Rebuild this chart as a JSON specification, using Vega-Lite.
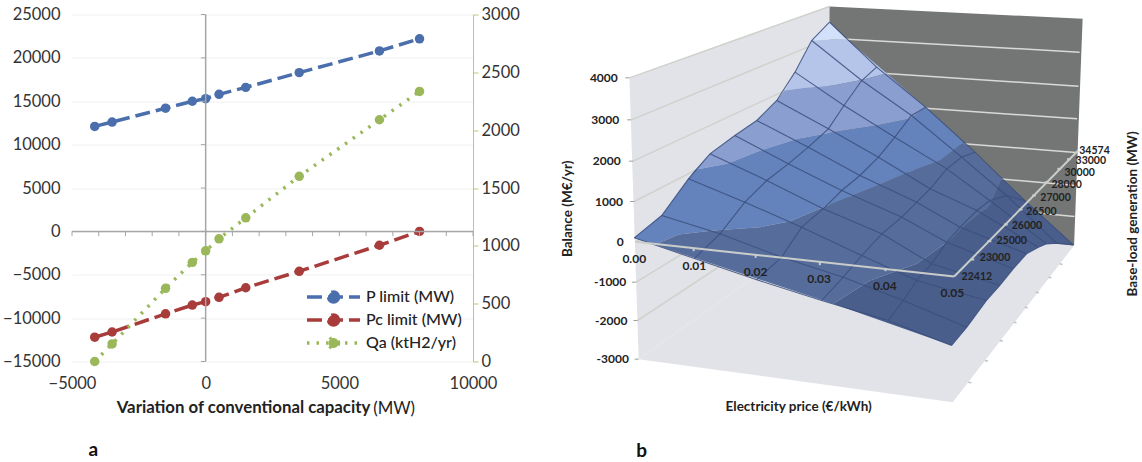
{"$schema":"https://vega.github.io/schema/vega-lite/v6.json","padding":{"left":2,"top":3.5,"right":0,"bottom":0},"background":"white","spacing":40,"config":{"font":"Lato","view":{"stroke":null},"axis":{"labelFont":"Lato","titleFont":"Lato"},"legend":{"labelFont":"Lato"}},
"datasets":{"lines":[
{"series":"P limit (MW)","cap":-4150,"value":12100},{"series":"P limit (MW)","cap":-3500,"value":12600},{"series":"P limit (MW)","cap":-1500,"value":14200},{"series":"P limit (MW)","cap":-500,"value":15000},{"series":"P limit (MW)","cap":0,"value":15300},{"series":"P limit (MW)","cap":500,"value":15800},{"series":"P limit (MW)","cap":1500,"value":16600},{"series":"P limit (MW)","cap":3500,"value":18300},{"series":"P limit (MW)","cap":6500,"value":20800},{"series":"P limit (MW)","cap":8000,"value":22200},
{"series":"Pc limit (MW)","cap":-4150,"value":-12200},{"series":"Pc limit (MW)","cap":-3500,"value":-11600},{"series":"Pc limit (MW)","cap":-1500,"value":-9500},{"series":"Pc limit (MW)","cap":-500,"value":-8500},{"series":"Pc limit (MW)","cap":0,"value":-8100},{"series":"Pc limit (MW)","cap":500,"value":-7600},{"series":"Pc limit (MW)","cap":1500,"value":-6500},{"series":"Pc limit (MW)","cap":3500,"value":-4600},{"series":"Pc limit (MW)","cap":6500,"value":-1600},{"series":"Pc limit (MW)","cap":8000,"value":0}],
"qa":[{"series":"Qa (ktH2/yr)","cap":-4150,"value":0},{"series":"Qa (ktH2/yr)","cap":-3500,"value":152},{"series":"Qa (ktH2/yr)","cap":-1500,"value":633},{"series":"Qa (ktH2/yr)","cap":-500,"value":857},{"series":"Qa (ktH2/yr)","cap":0,"value":957},{"series":"Qa (ktH2/yr)","cap":500,"value":1061},{"series":"Qa (ktH2/yr)","cap":1500,"value":1242},{"series":"Qa (ktH2/yr)","cap":3500,"value":1601},{"series":"Qa (ktH2/yr)","cap":6500,"value":2090},{"series":"Qa (ktH2/yr)","cap":8000,"value":2335}],
"xticks":[{"t":-5000},{"t":-4000},{"t":-3000},{"t":-2000},{"t":-1000},{"t":0},{"t":1000},{"t":2000},{"t":3000},{"t":4000},{"t":5000},{"t":6000},{"t":7000},{"t":8000},{"t":9000},{"t":10000}],
"yticks":[{"t":-15000},{"t":-10000},{"t":-5000},{"t":0},{"t":5000},{"t":10000},{"t":15000},{"t":20000},{"t":25000}],
"walls":[
{"w":"left","k":1,"u":187,"v":232},{"w":"left","k":2,"u":726,"v":18},{"w":"left","k":3,"u":726,"v":669},{"w":"left","k":4,"u":212,"v":1076},
{"w":"floor","k":1,"u":212,"v":1076},{"w":"floor","k":2,"u":726,"v":669},{"w":"floor","k":3,"u":1385,"v":735},{"w":"floor","k":4,"u":1058,"v":1205},
{"w":"back","k":1,"u":726,"v":18},{"w":"back","k":2,"u":1408,"v":55},{"w":"back","k":3,"u":1385,"v":735},{"w":"back","k":4,"u":726,"v":669}],
"wallgrid":[
{"l":4000,"k":1,"u":187,"v":232},{"l":4000,"k":2,"u":726,"v":18},
{"l":3000,"k":1,"u":192,"v":358},{"l":3000,"k":2,"u":726,"v":113},
{"l":2000,"k":1,"u":197,"v":482},{"l":2000,"k":2,"u":726,"v":208},
{"l":1000,"k":1,"u":200,"v":603},{"l":1000,"k":2,"u":726,"v":303},
{"l":0,"k":1,"u":203,"v":724},{"l":0,"k":2,"u":726,"v":398},
{"l":-1000,"k":1,"u":205,"v":845},{"l":-1000,"k":2,"u":726,"v":490},
{"l":-2000,"k":1,"u":209,"v":960},{"l":-2000,"k":2,"u":726,"v":580}],
"backgrid":[
{"l":3000,"k":1,"u":726,"v":113},{"l":3000,"k":2,"u":1400,"v":155},
{"l":2000,"k":1,"u":726,"v":208},{"l":2000,"k":2,"u":1397,"v":257},
{"l":1000,"k":1,"u":726,"v":303},{"l":1000,"k":2,"u":1393,"v":355},
{"l":0,"k":1,"u":726,"v":398},{"l":0,"k":2,"u":1390,"v":456},
{"l":-1000,"k":1,"u":726,"v":490},{"l":-1000,"k":2,"u":1388,"v":555},
{"l":-2000,"k":1,"u":726,"v":580},{"l":-2000,"k":2,"u":1386,"v":648}],
"bands":[
{"b":"a","k":1,"u":726,"v":65},{"b":"a","k":2,"u":678,"v":120},{"b":"a","k":3,"u":725,"v":118},{"b":"a","k":4,"u":772,"v":116},
{"b":"b","k":1,"u":678,"v":120},{"b":"b","k":2,"u":725,"v":118},{"b":"b","k":3,"u":772,"v":116},{"b":"b","k":4,"u":880,"v":218},{"b":"b","k":5,"u":815,"v":238},{"b":"b","k":6,"u":735,"v":255},{"b":"b","k":7,"u":660,"v":262},{"b":"b","k":8,"u":605,"v":270},{"b":"b","k":9,"u":633,"v":215},
{"b":"c","k":1,"u":605,"v":270},{"b":"c","k":2,"u":660,"v":262},{"b":"c","k":3,"u":735,"v":255},{"b":"c","k":4,"u":815,"v":238},{"b":"c","k":5,"u":880,"v":218},{"b":"c","k":6,"u":985,"v":320},{"b":"c","k":7,"u":943,"v":355},{"b":"c","k":8,"u":853,"v":375},{"b":"c","k":9,"u":736,"v":395},{"b":"c","k":10,"u":640,"v":415},{"b":"c","k":11,"u":540,"v":450},{"b":"c","k":12,"u":450,"v":490},{"b":"c","k":13,"u":364,"v":508},{"b":"c","k":14,"u":404,"v":460},{"b":"c","k":15,"u":471,"v":405},{"b":"c","k":16,"u":530,"v":360},{"b":"c","k":17,"u":584,"v":300},
{"b":"d","k":1,"u":364,"v":508},{"b":"d","k":2,"u":450,"v":490},{"b":"d","k":3,"u":540,"v":450},{"b":"d","k":4,"u":640,"v":415},{"b":"d","k":5,"u":736,"v":395},{"b":"d","k":6,"u":853,"v":375},{"b":"d","k":7,"u":943,"v":355},{"b":"d","k":8,"u":985,"v":320},{"b":"d","k":9,"u":1087,"v":425},{"b":"d","k":10,"u":1024,"v":480},{"b":"d","k":11,"u":938,"v":515},{"b":"d","k":12,"u":867,"v":550},{"b":"d","k":13,"u":709,"v":620},{"b":"d","k":14,"u":620,"v":662},{"b":"d","k":15,"u":539,"v":680},{"b":"d","k":16,"u":413,"v":690},{"b":"d","k":17,"u":320,"v":702},{"b":"d","k":18,"u":255,"v":733},{"b":"d","k":19,"u":200,"v":712},{"b":"d","k":20,"u":274,"v":645},{"b":"d","k":21,"u":346,"v":535},
{"b":"e","k":1,"u":200,"v":712},{"b":"e","k":2,"u":255,"v":733},{"b":"e","k":3,"u":320,"v":702},{"b":"e","k":4,"u":413,"v":690},{"b":"e","k":5,"u":539,"v":680},{"b":"e","k":6,"u":620,"v":662},{"b":"e","k":7,"u":709,"v":620},{"b":"e","k":8,"u":867,"v":550},{"b":"e","k":9,"u":938,"v":515},{"b":"e","k":10,"u":1024,"v":480},{"b":"e","k":11,"u":1087,"v":425},{"b":"e","k":12,"u":1190,"v":535},{"b":"e","k":13,"u":1172,"v":580},{"b":"e","k":14,"u":1158,"v":615},{"b":"e","k":15,"u":1096,"v":670},{"b":"e","k":16,"u":1042,"v":725},{"b":"e","k":17,"u":961,"v":790},{"b":"e","k":18,"u":835,"v":840},{"b":"e","k":19,"u":736,"v":910},
{"b":"f","k":1,"u":736,"v":910},{"b":"f","k":2,"u":835,"v":840},{"b":"f","k":3,"u":961,"v":790},{"b":"f","k":4,"u":1042,"v":725},{"b":"f","k":5,"u":1096,"v":670},{"b":"f","k":6,"u":1158,"v":615},{"b":"f","k":7,"u":1172,"v":580},{"b":"f","k":8,"u":1190,"v":535},{"b":"f","k":9,"u":1383,"v":733},{"b":"f","k":10,"u":1338,"v":728},{"b":"f","k":11,"u":1311,"v":730},{"b":"f","k":12,"u":1289,"v":740},{"b":"f","k":13,"u":1257,"v":760},{"b":"f","k":14,"u":1221,"v":805},{"b":"f","k":15,"u":1185,"v":855},{"b":"f","k":16,"u":1149,"v":900},{"b":"f","k":17,"u":1096,"v":980},{"b":"f","k":18,"u":1055,"v":1035}],
"grid":[
{"p":0,"g":0,"u":200,"v":712},{"p":0,"g":1,"u":274,"v":645},{"p":0,"g":2,"u":346,"v":535},{"p":0,"g":3,"u":404,"v":460},{"p":0,"g":4,"u":471,"v":405},{"p":0,"g":5,"u":530,"v":360},{"p":0,"g":6,"u":584,"v":300},{"p":0,"g":7,"u":633,"v":215},{"p":0,"g":8,"u":678,"v":120},{"p":0,"g":9,"u":726,"v":65},
{"p":1,"g":0,"u":362,"v":774},{"p":1,"g":1,"u":431,"v":700},{"p":1,"g":2,"u":498,"v":605},{"p":1,"g":3,"u":557,"v":540},{"p":1,"g":4,"u":615,"v":490},{"p":1,"g":5,"u":669,"v":440},{"p":1,"g":6,"u":723,"v":385},{"p":1,"g":7,"u":765,"v":315},{"p":1,"g":8,"u":813,"v":240},{"p":1,"g":9,"u":853,"v":200},
{"p":2,"g":0,"u":530,"v":838},{"p":2,"g":1,"u":597,"v":770},{"p":2,"g":2,"u":651,"v":680},{"p":2,"g":3,"u":709,"v":625},{"p":2,"g":4,"u":759,"v":570},{"p":2,"g":5,"u":808,"v":525},{"p":2,"g":6,"u":858,"v":470},{"p":2,"g":7,"u":902,"v":410},{"p":2,"g":8,"u":947,"v":345},{"p":2,"g":9,"u":985,"v":320},
{"p":3,"g":0,"u":705,"v":900},{"p":3,"g":1,"u":763,"v":830},{"p":3,"g":2,"u":813,"v":765},{"p":3,"g":3,"u":867,"v":700},{"p":3,"g":4,"u":921,"v":650},{"p":3,"g":5,"u":961,"v":605},{"p":3,"g":6,"u":997,"v":565},{"p":3,"g":7,"u":1042,"v":505},{"p":3,"g":8,"u":1082,"v":470},{"p":3,"g":9,"u":1118,"v":455},
{"p":4,"g":0,"u":884,"v":960},{"p":4,"g":1,"u":925,"v":900},{"p":4,"g":2,"u":961,"v":840},{"p":4,"g":3,"u":1001,"v":790},{"p":4,"g":4,"u":1042,"v":725},{"p":4,"g":5,"u":1078,"v":680},{"p":4,"g":6,"u":1123,"v":630},{"p":4,"g":7,"u":1158,"v":600},{"p":4,"g":8,"u":1203,"v":585},{"p":4,"g":9,"u":1253,"v":601},
{"p":5,"g":0,"u":1055,"v":1035},{"p":5,"g":1,"u":1096,"v":980},{"p":5,"g":2,"u":1149,"v":900},{"p":5,"g":3,"u":1185,"v":855},{"p":5,"g":4,"u":1221,"v":805},{"p":5,"g":5,"u":1257,"v":760},{"p":5,"g":6,"u":1289,"v":740},{"p":5,"g":7,"u":1311,"v":730},{"p":5,"g":8,"u":1338,"v":728},{"p":5,"g":9,"u":1383,"v":733}],
"axes3d":[{"a":"price","k":1,"u":203,"v":724},{"a":"price","k":2,"u":1062,"v":828},{"a":"base","k":1,"u":1062,"v":828},{"a":"base","k":2,"u":1396,"v":450}],
"ticks3d":[
{"t":"y4000","k":1,"u":176,"v":232},{"t":"y4000","k":2,"u":187,"v":232},{"t":"y3000","k":1,"u":181,"v":358},{"t":"y3000","k":2,"u":192,"v":358},{"t":"y2000","k":1,"u":186,"v":482},{"t":"y2000","k":2,"u":197,"v":482},{"t":"y1000","k":1,"u":189,"v":603},{"t":"y1000","k":2,"u":200,"v":603},{"t":"y-1000","k":1,"u":194,"v":845},{"t":"y-1000","k":2,"u":205,"v":845},{"t":"y-2000","k":1,"u":198,"v":960},{"t":"y-2000","k":2,"u":209,"v":960},{"t":"y-3000","k":1,"u":201,"v":1076},{"t":"y-3000","k":2,"u":212,"v":1076}],
"ticks3dtop":[
{"t":"p1","k":1,"u":360,"v":743},{"t":"p1","k":2,"u":360,"v":752},{"t":"p2","k":1,"u":527,"v":763},{"t":"p2","k":2,"u":527,"v":772},{"t":"p3","k":1,"u":700,"v":785},{"t":"p3","k":2,"u":700,"v":794},{"t":"p4","k":1,"u":877,"v":803},{"t":"p4","k":2,"u":877,"v":812},
{"t":"b1","k":1,"u":1106,"v":777},{"t":"b1","k":2,"u":1116,"v":777},{"t":"b2","k":1,"u":1152,"v":722},{"t":"b2","k":2,"u":1162,"v":722},{"t":"b3","k":1,"u":1196,"v":672},{"t":"b3","k":2,"u":1206,"v":672},{"t":"b4","k":1,"u":1236,"v":627},{"t":"b4","k":2,"u":1246,"v":627},{"t":"b5","k":1,"u":1272,"v":585},{"t":"b5","k":2,"u":1282,"v":585},{"t":"b6","k":1,"u":1306,"v":545},{"t":"b6","k":2,"u":1316,"v":545},{"t":"b7","k":1,"u":1340,"v":505},{"t":"b7","k":2,"u":1350,"v":505},{"t":"b8","k":1,"u":1366,"v":476},{"t":"b8","k":2,"u":1376,"v":476}],
"ticksfloor":[
{"t":"f1","k":1,"u":1100,"v":1145},{"t":"f1","k":2,"u":1108,"v":1147},{"t":"f2","k":1,"u":1145,"v":1080},{"t":"f2","k":2,"u":1153,"v":1082},{"t":"f3","k":1,"u":1185,"v":1020},{"t":"f3","k":2,"u":1193,"v":1022},{"t":"f4","k":1,"u":1222,"v":965},{"t":"f4","k":2,"u":1230,"v":967},{"t":"f5","k":1,"u":1252,"v":920},{"t":"f5","k":2,"u":1260,"v":922},{"t":"f6","k":1,"u":1282,"v":875},{"t":"f6","k":2,"u":1290,"v":877},{"t":"f7","k":1,"u":1316,"v":830},{"t":"f7","k":2,"u":1324,"v":832},{"t":"f8","k":1,"u":1346,"v":790},{"t":"f8","k":2,"u":1354,"v":792}],
"labels":[
{"s":"4000","u":118,"v":232},{"s":"3000","u":122,"v":358},{"s":"2000","u":126,"v":482},{"s":"1000","u":132,"v":603},{"s":"0","u":162,"v":724},{"s":"-1000","u":135,"v":843},{"s":"-2000","u":138,"v":960},{"s":"-3000","u":142,"v":1076},
{"s":"0.00","u":200,"v":775},{"s":"0.01","u":362,"v":795},{"s":"0.02","u":527,"v":815},{"s":"0.03","u":698,"v":835},{"s":"0.04","u":875,"v":855},{"s":"0.05","u":1057,"v":877}],
"baselabels":[
{"s":"34574","u":1440,"v":452},{"s":"33000","u":1430,"v":482},{"s":"30000","u":1400,"v":518},{"s":"28000","u":1365,"v":553},{"s":"27000","u":1335,"v":592},{"s":"26500","u":1297,"v":633},{"s":"26000","u":1258,"v":677},{"s":"25000","u":1217,"v":722},{"s":"23000","u":1172,"v":772},{"s":"22412","u":1123,"v":828}],
"titles":[{"s":"Electricity price (€/kWh)","u":643,"v":1218}],
"vtitles":[{"s":"Balance (M€/yr)","u":22,"v":625},{"s":"Base-load generation (MW)","u":1545,"v":640}],
"tag":[{"s":"b","u":220,"v":1350}]},
"hconcat":[
{"width":401,"height":347,
"title":{"text":"a","orient":"bottom","anchor":"start","dx":86,"offset":23,"fontSize":19,"fontWeight":"bold","font":"Lato","color":"#111"},
"layer":[
{"layer":[
{"data":{"name":"lines"},"mark":{"type":"line","strokeWidth":3.5,"point":{"filled":true,"size":90,"strokeWidth":0}},
"encoding":{
"x":{"field":"cap","type":"quantitative","scale":{"domain":[-5000,10000],"nice":false,"zero":false},"axis":{"title":"Variation of conventional capacity","titleX":171,"titleFontSize":16.8,"titleFontWeight":"bold","titleColor":"#222","titlePadding":7,"values":[-5000,0,5000,10000],"grid":false,"domain":false,"ticks":false,"labelFontSize":16.5,"labelColor":"#333","labelPadding":14,"labelFlush":false,"format":"d"}},
"y":{"field":"value","type":"quantitative","scale":{"domain":[-15000,25000],"nice":false},"axis":{"title":null,"values":[-15000,-10000,-5000,0,5000,10000,15000,20000,25000],"grid":true,"gridColor":"#eef0ee","domain":false,"ticks":false,"labelFontSize":16.5,"labelColor":"#333","labelPadding":12,"format":"d"}},
"color":{"field":"series","type":"nominal","scale":{"domain":["P limit (MW)","Pc limit (MW)","Qa (ktH2/yr)"],"range":["#4a6fac","#a83c3b","#9ab85a"]},"legend":{"title":null,"orient":"none","legendX":251,"legendY":272,"labelFontSize":16,"labelOffset":22,"labelColor":"#222","labelFontWeight":500,"symbolSize":289,"symbolType":"M-3.12,0L3.12,0M0.59,0A0.59,0.59 0 1,1 -0.59,0A0.59,0.59 0 1,1 0.59,0Z","rowPadding":-2.5,"symbolStrokeWidth":3.5}},
"strokeDash":{"field":"series","type":"nominal","scale":{"domain":["P limit (MW)","Pc limit (MW)","Qa (ktH2/yr)"],"range":[[15,6],[15,6],[2.5,7]]},"legend":{"title":null}}}},
{"data":{"values":[{"y0":0}]},"mark":{"type":"rule","color":"#a6a6a6","strokeWidth":1.5},"encoding":{"y":{"field":"y0","type":"quantitative"}}},
{"data":{"values":[{"x0":0}]},"mark":{"type":"rule","color":"#a6a6a6","strokeWidth":1.5},"encoding":{"x":{"field":"x0","type":"quantitative"}}},
{"data":{"name":"xticks"},"mark":{"type":"rule","color":"#a6a6a6"},"encoding":{"x":{"field":"t","type":"quantitative"},"y":{"datum":0},"y2":{"datum":-550}}},
{"data":{"name":"yticks"},"mark":{"type":"rule","color":"#a6a6a6"},"encoding":{"y":{"field":"t","type":"quantitative"},"x":{"datum":0},"x2":{"datum":-180}}},
{"data":{"values":[{"s":"(MW)","xp":7050,"yp":-20500}]},"mark":{"type":"text","fontSize":16.8,"color":"#222"},"encoding":{"x":{"field":"xp","type":"quantitative"},"y":{"field":"yp","type":"quantitative"},"text":{"field":"s"}}}
]},
{"data":{"name":"qa"},"mark":{"type":"line","strokeWidth":3.5,"point":{"filled":true,"size":90,"strokeWidth":0}},
"encoding":{
"x":{"field":"cap","type":"quantitative"},
"y":{"field":"value","type":"quantitative","scale":{"domain":[0,3000],"nice":false},"axis":{"title":null,"orient":"right","values":[0,500,1000,1500,2000,2500,3000],"grid":false,"domainColor":"#b5c97f","tickColor":"#b5c97f","tickSize":5,"labelFontSize":16.5,"labelColor":"#333","labelPadding":3,"format":"d"}},
"color":{"field":"series","type":"nominal"},
"strokeDash":{"field":"series","type":"nominal"}}}
],"resolve":{"scale":{"y":"independent"},"axis":{"y":"independent"}}},
{"width":582,"height":448,
"encoding":{"x":{"field":"u","type":"quantitative","scale":{"domain":[0,1568],"nice":false,"zero":false},"axis":null},"y":{"field":"v","type":"quantitative","scale":{"domain":[1386,42],"nice":false,"zero":false},"axis":null}},
"layer":[
{"data":{"name":"walls"},"mark":{"type":"line","strokeWidth":0},"encoding":{"detail":{"field":"w"},"order":{"field":"k"},"fill":{"field":"w","scale":{"domain":["left","floor","back"],"range":["#e2e3e9","#e2e3e9","#747676"]},"legend":null}}},
{"data":{"name":"wallgrid"},"mark":{"type":"line","stroke":"#cfd2cc","strokeWidth":1.5},"encoding":{"detail":{"field":"l"},"order":{"field":"k"}}},
{"data":{"name":"backgrid"},"mark":{"type":"line","stroke":"#d8dad6","strokeWidth":1.5},"encoding":{"detail":{"field":"l"},"order":{"field":"k"}}},
{"data":{"name":"ticks3d"},"mark":{"type":"line","stroke":"#9a9d9c","strokeWidth":1},"encoding":{"detail":{"field":"t"},"order":{"field":"k"}}},
{"data":{"name":"ticksfloor"},"mark":{"type":"line","stroke":"#c0c3c4","strokeWidth":1.5},"encoding":{"detail":{"field":"t"},"order":{"field":"k"}}},
{"data":{"name":"bands"},"mark":{"type":"line","strokeWidth":0},"encoding":{"detail":{"field":"b"},"order":{"field":"k"},"fill":{"field":"b","scale":{"domain":["a","b","c","d","e","f"],"range":["#d3e0fb","#b5c5ea","#8a9ed0","#6482bb","#566d9c","#4a5e8c"]},"legend":null}}},
{"data":{"name":"grid"},"mark":{"type":"line","stroke":"#3a4f7c","strokeWidth":1.1,"opacity":0.85},"encoding":{"detail":{"field":"p"},"order":{"field":"g"}}},
{"data":{"name":"grid"},"mark":{"type":"line","stroke":"#3a4f7c","strokeWidth":1.1,"opacity":0.85},"encoding":{"detail":{"field":"g"},"order":{"field":"p"}}},
{"data":{"name":"axes3d"},"mark":{"type":"line","stroke":"#c9cdc9","strokeWidth":2},"encoding":{"detail":{"field":"a"},"order":{"field":"k"}}},
{"data":{"name":"ticks3dtop"},"mark":{"type":"line","stroke":"#c9cdc9","strokeWidth":2},"encoding":{"detail":{"field":"t"},"order":{"field":"k"}}},
{"data":{"name":"labels"},"mark":{"type":"text","fontSize":12,"fontWeight":"bold","color":"#222"},"encoding":{"text":{"field":"s"}}},
{"data":{"name":"baselabels"},"mark":{"type":"text","fontSize":10.5,"fontWeight":"bold","color":"#222"},"encoding":{"text":{"field":"s"}}},
{"data":{"name":"titles"},"mark":{"type":"text","fontSize":13.5,"fontWeight":"bold","color":"#222"},"encoding":{"text":{"field":"s"}}},
{"data":{"name":"vtitles"},"mark":{"type":"text","fontSize":13.5,"fontWeight":"bold","color":"#222","angle":270},"encoding":{"text":{"field":"s"}}},
{"data":{"name":"tag"},"mark":{"type":"text","fontSize":19,"fontWeight":"bold","color":"#111"},"encoding":{"text":{"field":"s"}}}
],"resolve":{"scale":{"fill":"independent"}}}
]}
